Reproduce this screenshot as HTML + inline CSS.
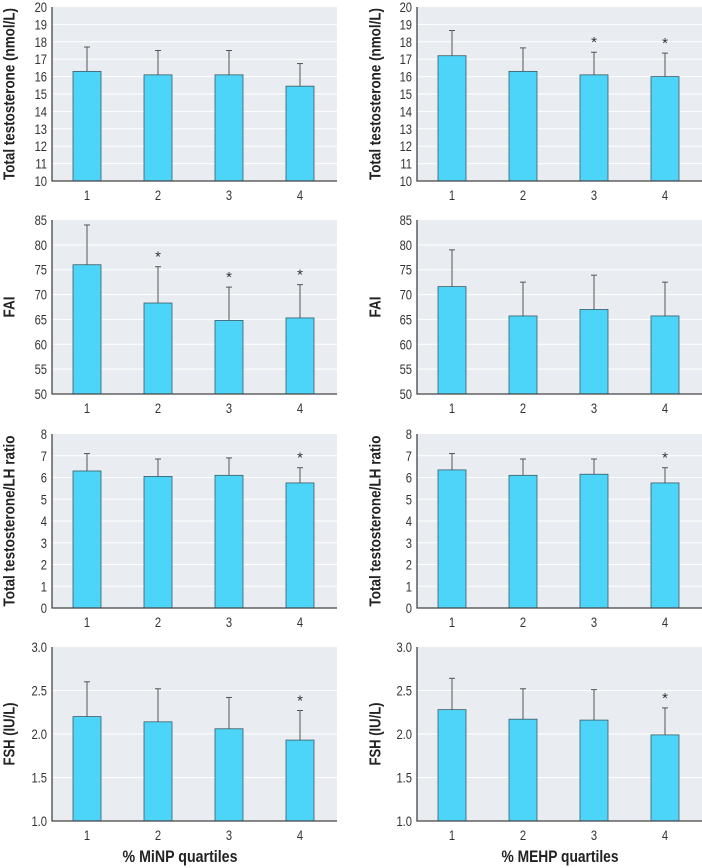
<!DOCTYPE html>
<html><head><meta charset="utf-8"><style>
html,body{margin:0;padding:0;background:#fff;}
svg{display:block;}
text{font-family:"Liberation Sans Narrow","Liberation Sans",sans-serif;}
</style></head>
<body>
<svg id="chart" width="702" height="868" viewBox="0 0 702 868"></svg>
<script>
const categories = ["1","2","3","4"];
const yTitles = ["Total testosterone (nmol/L)","FAI","Total testosterone/LH ratio","FSH (IU/L)"];
const yMins = [10,50,0,1.0];
const yMaxs = [20,85,8,3.0];
const yTicks = [[10,11,12,13,14,15,16,17,18,19,20],[50,55,60,65,70,75,80,85],[0,1,2,3,4,5,6,7,8],[1.0,1.5,2.0,2.5,3.0]];
const tickDecimals = [0,0,0,1];
const minpMeans = [[16.3,16.1,16.1,15.45],[76,68.3,64.8,65.3],[6.3,6.05,6.1,5.75],[2.2,2.14,2.06,1.93]];
const minpUpper = [[17.7,17.5,17.5,16.75],[84,75.6,71.5,72],[7.1,6.85,6.9,6.45],[2.6,2.52,2.42,2.27]];
const minpSig = [[0,0,0,0],[0,1,1,1],[0,0,0,1],[0,0,0,1]];
const mehpMeans = [[17.2,16.3,16.1,16.0],[71.6,65.7,67,65.7],[6.35,6.1,6.15,5.75],[2.28,2.17,2.16,1.99]];
const mehpUpper = [[18.65,17.65,17.4,17.35],[79,72.5,73.9,72.5],[7.1,6.85,6.85,6.45],[2.64,2.52,2.51,2.3]];
const mehpSig = [[0,0,1,1],[0,0,0,0],[0,0,0,1],[0,0,0,1]];
const xTitles = ["% MiNP quartiles","% MEHP quartiles"];

const NS="http://www.w3.org/2000/svg";
const svg=document.getElementById('chart');
function mk(tag,attrs,parent){const e=document.createElementNS(NS,tag);for(const k in attrs)e.setAttribute(k,attrs[k]);(parent||svg).appendChild(e);return e;}

const colX=[52,417], plotW=285, rowTop=[7,220,434,647], plotH=174;
const labelX=[10,376];
const titleLen=[172,21,171,63];
const xTitleCx=[180,560], xTitleLen=[115,117];
const sets=[[minpMeans,minpUpper,minpSig],[mehpMeans,mehpUpper,mehpSig]];

for(let c=0;c<2;c++){
 for(let r=0;r<4;r++){
  const g=mk('g',{});
  
  
  const x0=colX[c], y0=rowTop[r];
  const yS=v=>y0+plotH-(v-yMins[r])/(yMaxs[r]-yMins[r])*plotH;
  const xS=i=>x0+35+i*71;
  const bg=mk('rect',{x:x0,y:y0,width:plotW,height:plotH,fill:'#e9edf1'},g);
  
  
  yTicks[r].forEach(t=>{
    const y=yS(t);
    if(t!==yMins[r]&&t!==yMaxs[r]){const gl=mk('line',{x1:x0,x2:x0+plotW,y1:y,y2:y,stroke:'#fff','stroke-width':1},g);
      
      }
    const tl=mk('text',{x:0,y:0,transform:`translate(${x0-5},${y+5}) scale(0.8,1)`,'text-anchor':'end','font-size':14,fill:'#333'},g);
    tl.textContent=t.toFixed(tickDecimals[r]);
    
    
  });
  const [means,upper,sig]=sets[c];
  for(let i=0;i<4;i++){
    const cx=xS(i), ym=yS(means[r][i]), yu=yS(upper[r][i]);
    const el=mk('line',{x1:cx,x2:cx,y1:yu,y2:ym,stroke:'#555','stroke-width':1},g);
    
    
    const cap=mk('line',{x1:cx-3,x2:cx+3,y1:yu,y2:yu,stroke:'#555','stroke-width':1},g);
    
    
    const b=mk('rect',{x:cx-14,y:ym,width:28,height:y0+plotH-ym,fill:'#4dd5f9',stroke:'#3b5a66','stroke-width':0.8},g);
    
    
    if(sig[r][i]){const s=mk('text',{x:cx,y:yu-5,'text-anchor':'middle','font-size':15,fill:'#333'},g);
      s.textContent='*';
      
      }
    const xl=mk('text',{x:0,y:0,transform:`translate(${cx},${y0+plotH+19}) scale(0.8,1)`,'text-anchor':'middle','font-size':14,fill:'#333'},g);
    xl.textContent=categories[i];
    
    
  }
  const ax=mk('polyline',{points:`${x0},${y0} ${x0},${y0+plotH} ${x0+plotW},${y0+plotH}`,fill:'none',stroke:'#444','stroke-width':1.3},g);
  
  
  const cy=y0+plotH/2;
  const yt=mk('text',{x:labelX[c],y:cy,transform:`rotate(-90 ${labelX[c]} ${cy})`,'text-anchor':'middle','dominant-baseline':'central','font-size':16,'font-weight':'bold',fill:'#222',textLength:titleLen[r],lengthAdjust:'spacingAndGlyphs'},g);
  yt.textContent=yTitles[r];
  
  
 }
 const xt=mk('text',{x:xTitleCx[c]-xTitleLen[c]/2,y:862,'font-size':17,'font-weight':'bold',fill:'#222',textLength:xTitleLen[c],lengthAdjust:'spacingAndGlyphs'});
 xt.textContent=xTitles[c];
 
 
}
</script>
</body></html>
